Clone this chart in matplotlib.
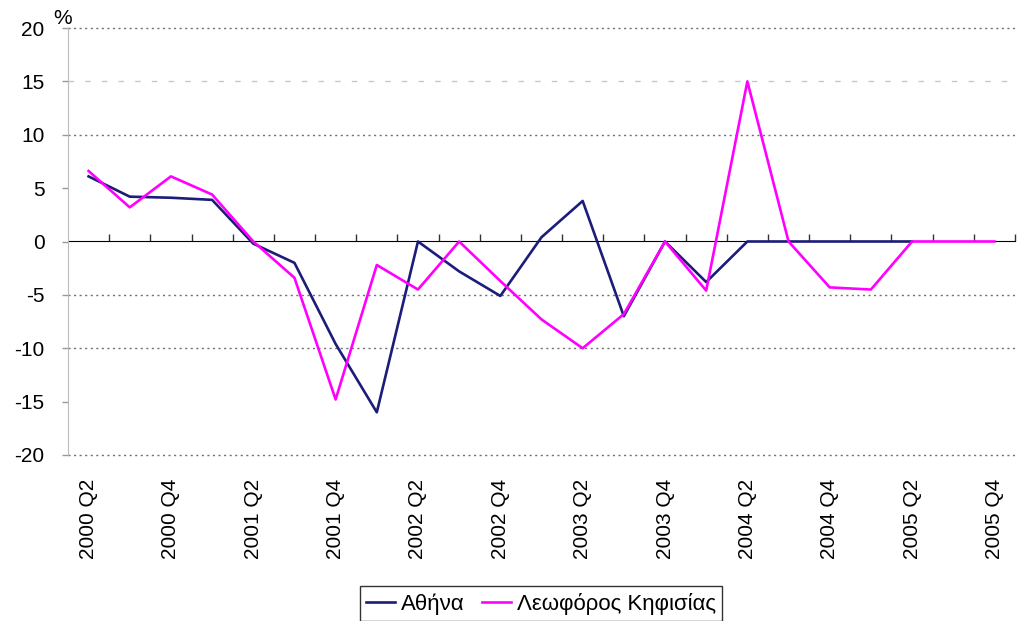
import numpy as np
import matplotlib
matplotlib.use('Agg')
import matplotlib.pyplot as plt

plt.rcParams['font.family'] = ['Liberation Sans', 'DejaVu Sans']
plt.rcParams['axes.unicode_minus'] = False

# τριμηνα 2000 Q2 - 2005 Q4
quarters = ['2000 Q2', '2000 Q3', '2000 Q4', '2001 Q1', '2001 Q2', '2001 Q3', '2001 Q4', '2002 Q1',
            '2002 Q2', '2002 Q3', '2002 Q4', '2003 Q1', '2003 Q2', '2003 Q3', '2003 Q4', '2004 Q1',
            '2004 Q2', '2004 Q3', '2004 Q4', '2005 Q1', '2005 Q2', '2005 Q3', '2005 Q4']

# Αθήνα (δεδομένα ως 2005 Q2)
athens = [6.1, 4.2, 4.1, 3.9, -0.2, -2.0, -9.6, -16.0,
          0.0, -2.8, -5.1, 0.4, 3.8, -7.0, 0.0, -3.8,
          0.0, 0.0, 0.0, 0.0, 0.0]

# Λεωφόρος Κηφισίας
kifisias = [6.6, 3.2, 6.1, 4.4, 0.0, -3.4, -14.8, -2.2,
            -4.5, 0.0, -3.7, -7.3, -10.0, -6.8, 0.0, -4.6,
            15.0, 0.0, -4.3, -4.5, 0.0, 0.0, 0.0]

label_idx = list(range(0, len(quarters), 2))

fig = plt.figure(figsize=(10.19, 6.21), dpi=100)
ax = fig.add_axes([68 / 1019, 166 / 621, 947 / 1019, 427 / 621])

# γραμμες πλεγματος
for v in [20, 10, -5, -10, -20]:
    ax.axhline(v, color='#707070', lw=1.0, ls=(0, (1.5, 2.5)), zorder=1, clip_on=False)
ax.axhline(15, color='#c8c8c8', lw=1.0, ls=(0, (4, 8)), zorder=1)

x_a = np.arange(len(athens))
x_k = np.arange(len(kifisias))
ax.plot(x_a, athens, color='#1c1c7a', lw=1.9, label='Αθήνα', zorder=3)
ax.plot(x_k, kifisias, color='#ff00ff', lw=1.9, label='Λεωφόρος Κηφισίας', zorder=4)

ax.set_xlim(-0.5, len(quarters) - 0.5)
ax.set_ylim(-20, 20)
ax.set_yticks(np.arange(-20, 21, 5))
ax.tick_params(axis='y', labelsize=15, length=4, width=1, color='#999999', pad=13)

ax.set_xticks(label_idx)
ax.set_xticklabels([quarters[i] for i in label_idx], rotation=90, fontsize=15)
ax.tick_params(axis='x', length=0, pad=17)

for s in ['top', 'right', 'bottom']:
    ax.spines[s].set_visible(False)
ax.spines['left'].set_color('#bbbbbb')

# αξονας στο μηδεν με διαχωριστικα κατηγοριων
zero = ax.secondary_xaxis(0.5)
zero.set_xticks(np.arange(0.5, len(quarters), 1))
zero.set_xticklabels([])
zero.tick_params(length=5, width=1, color='#333333', direction='out')
zero.spines['bottom'].set_color('#222222')
zero.spines['bottom'].set_linewidth(1.1)

ax.annotate('%', xy=(0, 1), xycoords='axes fraction', xytext=(-4, 0),
            textcoords='offset points', ha='center', va='bottom', fontsize=15)

fig.legend(loc='upper center', bbox_to_anchor=(541 / 1019, 35 / 621), ncol=2,
           fontsize=16, frameon=True, fancybox=False, edgecolor='black',
           handlelength=1.3, handletextpad=0.25, columnspacing=0.8,
           borderpad=0.3, borderaxespad=0)

fig.savefig('out.png', dpi=100, facecolor='white')
